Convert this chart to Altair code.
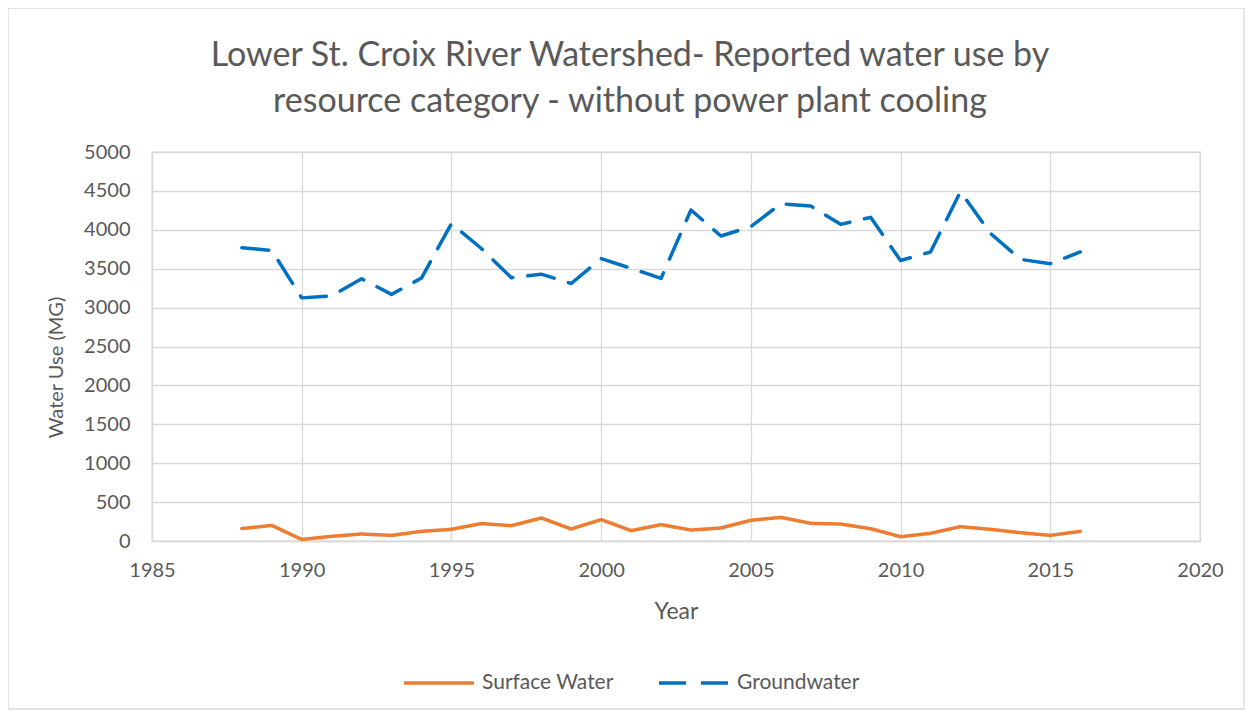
import altair as alt
import pandas as pd

years = list(range(1988, 2017))
surface_water = [160, 200, 20, 60, 90, 72, 124, 150, 224, 197, 296, 154, 275, 133,
                 210, 141, 167, 266, 304, 227, 218, 158, 55, 99, 184, 150, 107, 72, 124]
groundwater = [3770, 3735, 3125, 3150, 3370, 3170, 3380, 4080, 3760, 3385, 3430, 3310,
               3630, 3505, 3375, 4255, 3920, 4040, 4335, 4305, 4070, 4160, 3605, 3715,
               4490, 3955, 3620, 3565, 3715]
series_names = ["Surface Water", "Groundwater"]
series_colors = ["#ED7D31", "#0070C0"]

rows = []
for y, v in zip(years, surface_water):
    rows.append({"Year": y, "Value": v, "Series": series_names[0]})
for y, v in zip(years, groundwater):
    rows.append({"Year": y, "Value": v, "Series": series_names[1]})
df = pd.DataFrame(rows)

W, H = 1048, 389
FONT = "Lato"
TXT = "#595959"
GRID = "#D9D9D9"

border = alt.Chart(alt.Data(values=[{"a": 1}])).mark_rect(
    fill=None, stroke=GRID, strokeWidth=1.3
).encode(
    x=alt.value(-144), x2=alt.value(1092), y=alt.value(-144), y2=alt.value(557)
)

legend_opts = dict(title=None, orient="none", legendX=250, legendY=494,
                   direction="horizontal", symbolType="stroke",
                   symbolSize=4900, symbolStrokeWidth=3.5,
                   labelOffset=6, columnPadding=38, padding=0)

lines = alt.Chart(df).mark_line(strokeWidth=3.5, strokeCap="round", strokeJoin="round").encode(
    x=alt.X("Year:Q",
            scale=alt.Scale(domain=[1985, 2020], nice=False, zero=False),
            axis=alt.Axis(values=[1985, 1990, 1995, 2000, 2005, 2010, 2015, 2020],
                          format="d", title="Year", ticks=False, labelPadding=19,
                          labelFlush=False, titleFontSize=23,
                          titleY=70, titleBaseline="middle", grid=True)),
    y=alt.Y("Value:Q",
            scale=alt.Scale(domain=[0, 5000], nice=False),
            axis=alt.Axis(values=list(range(0, 5001, 500)), format="d",
                          title="Water Use (MG)", labelFlush=False, titleFontSize=20,
                          ticks=False, labelPadding=22, titleX=-96, titleY=215,
                          titleAngle=-90, titleBaseline="middle", titleAlign="center",
                          grid=True)),
    color=alt.Color("Series:N",
                    scale=alt.Scale(domain=series_names, range=series_colors),
                    legend=alt.Legend(**legend_opts)),
    strokeDash=alt.StrokeDash("Series:N",
                              scale=alt.Scale(domain=series_names, range=[[1, 0], [27, 15]]),
                              legend=alt.Legend(**legend_opts)),
    order="Year:Q",
)

chart = alt.layer(border, lines).properties(
    width=W, height=H,
    autosize=alt.AutoSizeParams(type="none"),
    padding={"left": 144, "top": 144, "right": 45, "bottom": 169},
    title=alt.TitleParams(
        text=["Lower St. Croix River Watershed- Reported water use by",
              "resource category - without power plant cooling"],
        anchor="middle", dx=-46, dy=152, offset=40, fontSize=34, font=FONT, color=TXT,
        fontWeight="normal", lineHeight=46,
    ),
).configure_view(
    stroke=GRID, strokeWidth=1.3
).configure_axis(
    labelFont=FONT, labelFontSize=20, labelColor=TXT,
    titleFont=FONT, titleFontSize=22, titleColor=TXT, titleFontWeight="normal",
    gridColor=GRID, gridWidth=1.3, domainColor=GRID, domainWidth=1.3,
).configure_legend(
    labelFont=FONT, labelFontSize=21, labelColor=TXT,
)

chart.save("out.html", embed_options={"renderer": "svg", "actions": False})
